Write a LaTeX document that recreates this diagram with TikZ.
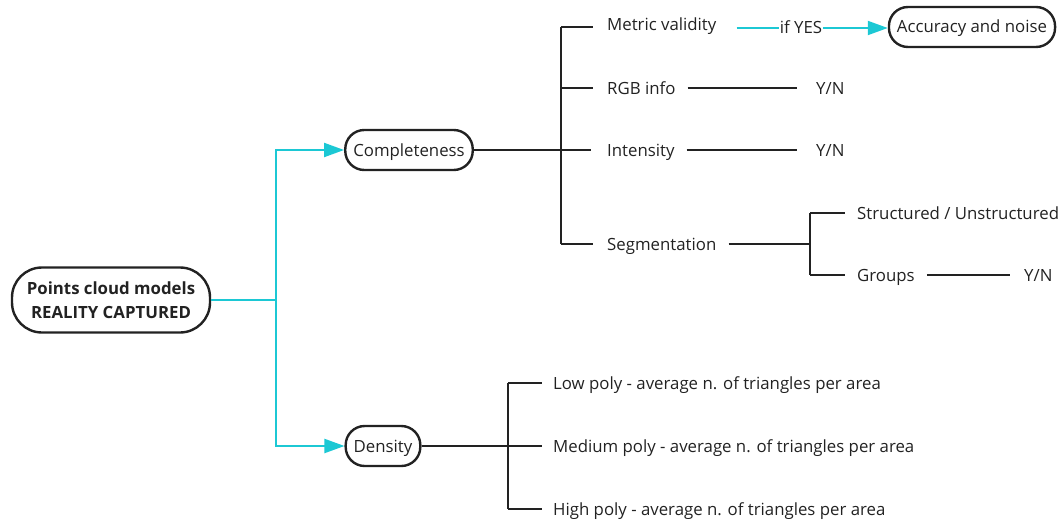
\documentclass[tikz,border=0pt]{standalone}
\usepackage{fontspec}
\setmainfont{Open Sans}
\usetikzlibrary{arrows.meta}
\definecolor{ink}{HTML}{222222}
\definecolor{teal}{HTML}{1CC8D4}
\begin{document}
\begin{tikzpicture}[x=1pt,y=-1pt,
  every node/.style={font=\fontsize{16.8}{24}\selectfont, text=ink},
  pill/.style={draw=ink, line width=2.4pt, rounded corners=19pt, inner xsep=8pt, minimum height=40pt, align=center, text height=12pt, text depth=0pt},
  lbl/.style={anchor=west, inner sep=0pt, text height=12pt, text depth=0pt},
  branch/.style={draw=ink, line width=2.4pt},
  link/.style={draw=teal, line width=2pt},
  tip/.style={-{Triangle[length=20pt,width=14pt]}}]
\useasboundingbox (0,0) rectangle (1062,519);

% main nodes
\node[pill, font=\fontsize{16.8}{24}\selectfont\bfseries, text height=, text depth=, minimum width=198pt, minimum height=65pt, rounded corners=30pt] (root) at (111,300) {Points cloud models\\REALITY CAPTURED};
\node[pill] (comp) at (409,150) {Completeness};
\node[pill] (dens) at (383,446) {Density};
\node[pill] (acc) at (972,27) {Accuracy and noise};

% completeness branches
\node[lbl] (met) at (607,25) {Metric validity};
\node[lbl] (rgb) at (607,88) {RGB info};
\node[lbl] (int) at (607,150) {Intensity};
\node[lbl] (seg) at (607,244) {Segmentation};
\node[lbl] (rgbyn) at (816,88) {Y/N};
\node[lbl] (intyn) at (816,150) {Y/N};
\node[inner sep=1pt, text height=12pt, text depth=0pt] (yes) at (801,28) {if YES};

% segmentation branches
\node[lbl] (str) at (857,213) {Structured / Unstructured};
\node[lbl] (grp) at (857,275) {Groups};
\node[lbl] (grpyn) at (1024,275) {Y/N};

% density branches
\node[lbl] (low) at (553,383) {Low poly - average n. of triangles per area};
\node[lbl] (med) at (553,446) {Medium poly - average n. of triangles per area};
\node[lbl] (high) at (553,509) {High poly - average n. of triangles per area};

% junction points
\coordinate (hub) at (276,300);
\coordinate (cspine) at (561,150);
\coordinate (ctop) at (561,27);
\coordinate (sspine) at (810,244);
\coordinate (dspine) at (508,446);

% teal links
\draw[link] (root.east) -- (hub);
\draw[link, tip] (hub) |- (comp.west);
\draw[link, tip] (hub) |- (dens.west);
\draw[link] ([xshift=20pt]met.east |- yes.west) -- (yes.west);
\draw[link, tip] (yes.east) -- (acc.west |- yes.east);

% completeness tree
\draw[branch, line width=2.8pt] (comp.east) -- ([xshift=-16pt]int.west);
\draw[branch] (ctop) -- (cspine |- seg.west);
\draw[branch] (ctop) -- ([xshift=-14pt]met.west |- ctop);
\draw[branch] (cspine |- rgb.west) -- ([xshift=-14pt]rgb.west);
\draw[branch] (cspine |- seg.west) -- ([xshift=-14pt]seg.west);
\draw[branch] ([xshift=12pt]rgb.east) -- ([xshift=-19pt]rgbyn.west);
\draw[branch] ([xshift=12pt]int.east) -- ([xshift=-19pt]intyn.west);

% segmentation tree
\draw[branch] ([xshift=12pt]seg.east) -- (sspine);
\draw[branch] (sspine |- str.west) -- (sspine |- grp.west);
\draw[branch] (sspine |- str.west) -- ([xshift=-12pt]str.west);
\draw[branch] (sspine |- grp.west) -- ([xshift=-12pt]grp.west);
\draw[branch] ([xshift=12pt]grp.east) -- ([xshift=-14pt]grpyn.west);

% density tree
\draw[branch] (dens.east) -- (dspine);
\draw[branch] (dspine |- low.west) -- (dspine |- high.west);
\draw[branch] (dspine |- low.west) -- ([xshift=-11pt]low.west);
\draw[branch] (dspine |- med.west) -- ([xshift=-11pt]med.west);
\draw[branch] (dspine |- high.west) -- ([xshift=-11pt]high.west);
\end{tikzpicture}
\end{document}
